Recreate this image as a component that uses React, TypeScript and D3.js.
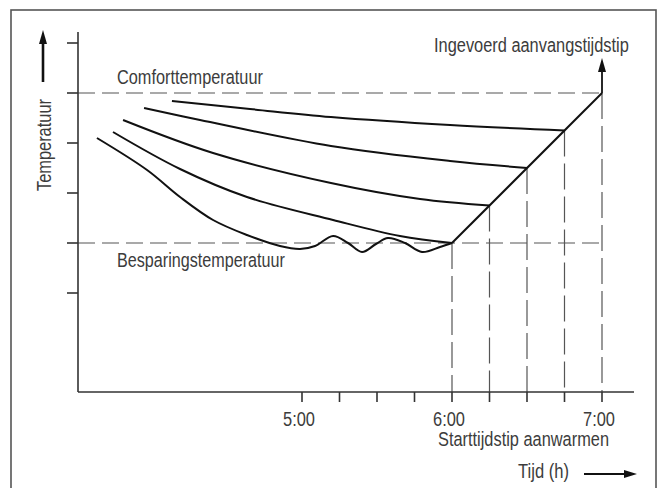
import React, { useLayoutEffect, useRef, useState } from "react";
import * as d3 from "d3";

// ---- data (x: time in hours, y: temperature in arbitrary units) ----
const curve1: [number, number][] = [[4.133, 4.84], [4.653, 4.68], [5.193, 4.52], [5.987, 4.36], [6.75, 4.25]];
const curve2: [number, number][] = [[3.947, 4.7], [4.32, 4.46], [5.193, 3.94], [5.987, 3.64], [6.5, 3.5]];
const curve3: [number, number][] = [[3.807, 4.46], [4.407, 3.8], [5.193, 3.2], [5.787, 2.88], [6.25, 2.75]];
const curve4: [number, number][] = [[3.74, 4.22], [4.187, 3.48], [4.633, 2.92], [5.207, 2.46], [5.653, 2.14], [6.0, 2.0]];
const curve5: [number, number][] = [
  [3.633, 4.1], [3.967, 3.46], [4.187, 2.92], [4.407, 2.46], [4.633, 2.16], [4.853, 1.94],
  [4.987, 1.88], [5.087, 1.94], [5.207, 2.14], [5.307, 2.0], [5.4, 1.82], [5.493, 1.98], [5.573, 2.1],
  [5.687, 2.0], [5.8, 1.82], [5.92, 1.92], [6.0, 2.0],
];
const curves = [curve1, curve2, curve3, curve4, curve5];
const heatLine: [number, number][] = [[6, 2], [7, 5]];
const startTimes = [6, 6.25, 6.5, 6.75, 7];
const comfortTemp = 5;
const savingTemp = 2;
const xTicks = [5, 5.25, 5.5, 5.75, 6, 6.25, 6.5, 6.75, 7];
const xLabelHours = [5, 6, 7];
const xLabels = ["5:00", "6:00", "7:00"];
const yTicks = [1, 2, 3, 4, 5, 6];

const FONT = "'Liberation Sans Narrow', 'Arial Narrow', 'Liberation Sans', sans-serif";
const TXT = "#3c3c3c";
const FS = 19.5;

// Text squeezed horizontally (via transform) to a target width, left edge at x
function FitText(props: { x: number; y: number; width: number; size: number; rotate?: number; children: string }) {
  const ref = useRef<SVGTextElement>(null);
  const [sx, setSx] = useState(1);
  useLayoutEffect(() => {
    if (ref.current) {
      const w = ref.current.getComputedTextLength();
      if (w > 0) setSx(props.width / w);
    }
  }, [props.width, props.children]);
  const rot = props.rotate ? ` rotate(${props.rotate})` : "";
  return (
    <text
      ref={ref}
      transform={`translate(${props.x},${props.y})${rot} scale(${sx},1)`}
      fontFamily={FONT}
      fontSize={props.size}
      fill={TXT}
    >
      {props.children}
    </text>
  );
}

export default function App() {
  const x = d3.scaleLinear().domain([5, 7]).range([302, 602]);
  const y = d3.scaleLinear().domain([1, 6]).range([293, 43]);
  const x0 = 78, x1 = 634, yBot = 392, yTop = 32;
  const line = d3
    .line<[number, number]>()
    .x((d) => x(d[0]))
    .y((d) => y(d[1]))
    .curve(d3.curveCatmullRom.alpha(0.5));
  const straight = d3.line<[number, number]>().x((d) => x(d[0])).y((d) => y(d[1]));
  const heatY = (h: number) => savingTemp + (h - 6) * (comfortTemp - savingTemp);
  const upHead = (cx: number, tip: number) => `M${cx},${tip} L${cx + 4},${tip + 14} L${cx - 4},${tip + 14} Z`;

  return (
    <svg width={662} height={488} style={{ position: "absolute", left: 0, top: 0, background: "#fff" }}>
      {/* frame */}
      <rect x={11} y={10} width={645} height={500} fill="none" stroke="#555" strokeWidth={1.6} />

      {/* dashed reference lines */}
      <line x1={x0} x2={x(7)} y1={y(comfortTemp)} y2={y(comfortTemp)} stroke="#555" strokeWidth={1.2} strokeDasharray="17,7" />
      <line x1={x0} x2={x(7)} y1={y(savingTemp)} y2={y(savingTemp)} stroke="#555" strokeWidth={1.2} strokeDasharray="17,7" />
      {startTimes.map((h) => (
        <line key={h} x1={x(h)} x2={x(h)} y1={y(heatY(h))} y2={yBot} stroke="#555" strokeWidth={1.2} strokeDasharray="26,7" />
      ))}

      {/* axes */}
      <line x1={x0} x2={x0} y1={yTop} y2={yBot} stroke="#333" strokeWidth={1.6} />
      <line x1={x0} x2={x1} y1={yBot} y2={yBot} stroke="#333" strokeWidth={1.6} />
      {yTicks.map((t) => (
        <line key={t} x1={67} x2={x0} y1={y(t)} y2={y(t)} stroke="#333" strokeWidth={1.6} />
      ))}
      {xTicks.map((t) => (
        <line key={t} x1={x(t)} x2={x(t)} y1={yBot} y2={yBot + 10} stroke="#333" strokeWidth={1.6} />
      ))}
      {xLabelHours.map((h, i) => (
        <FitText key={h} x={x(h) - 19} y={426} width={32} size={20.5}>
          {xLabels[i]}
        </FitText>
      ))}

      {/* curves */}
      {curves.map((c, i) => (
        <path key={i} d={line(c) || ""} fill="none" stroke="#111" strokeWidth={2} />
      ))}
      <path d={straight(heatLine) || ""} fill="none" stroke="#111" strokeWidth={2} />
      <line x1={x(7)} x2={x(7)} y1={y(comfortTemp)} y2={70} stroke="#111" strokeWidth={1.8} />
      <path d={upHead(x(7), 58)} fill="#111" />

      {/* labels */}
      <FitText x={117} y={84} width={146} size={FS}>Comforttemperatuur</FitText>
      <FitText x={117} y={267} width={168} size={FS}>Besparingstemperatuur</FitText>
      <FitText x={434} y={52} width={195} size={FS}>Ingevoerd aanvangstijdstip</FitText>
      <FitText x={438} y={446} width={171} size={FS}>Starttijdstip aanwarmen</FitText>
      <FitText x={518} y={478} width={51} size={FS}>Tijd (h)</FitText>
      <FitText x={51} y={191} width={92} size={FS} rotate={-90}>Temperatuur</FitText>

      {/* axis arrows */}
      <line x1={43} x2={43} y1={82} y2={42} stroke="#111" strokeWidth={2.6} />
      <path d={upHead(43, 30)} fill="#111" />
      <line x1={584} x2={626} y1={474} y2={474} stroke="#111" strokeWidth={2.2} />
      <path d="M637,474 L624,470 L624,478 Z" fill="#111" />
    </svg>
  );
}
